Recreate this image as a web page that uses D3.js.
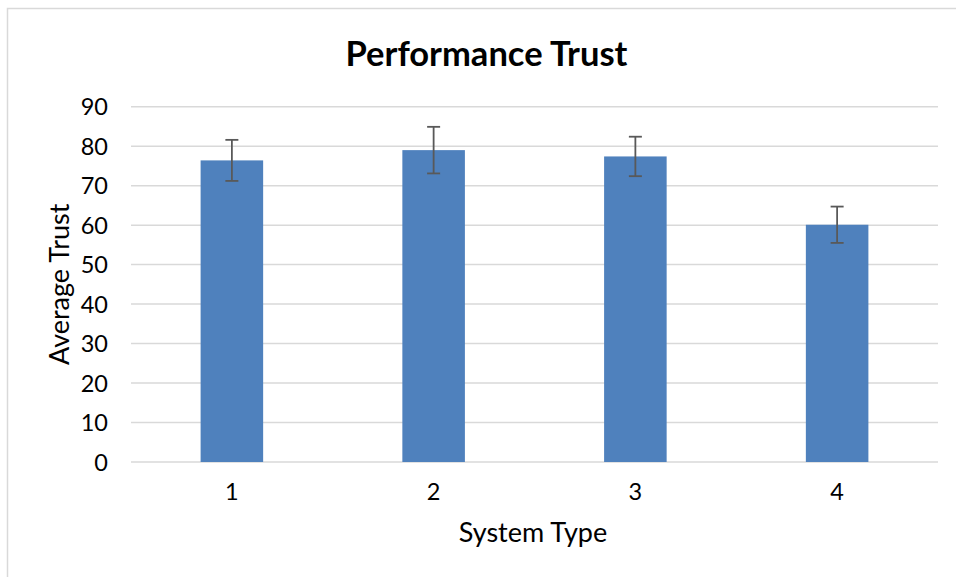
<!DOCTYPE html>
<html>
<head>
<meta charset="utf-8">
<script src="https://cdn.jsdelivr.net/npm/d3@7"></script>
<style>
	body { margin: 0; background: #fff; }
	svg text { font-family: Lato, "Open Sans", sans-serif; fill: #000; }
</style>
</head>
<body>
<div id="chart"></div>
<script>
// chart data
const categories = ['1', '2', '3', '4'];
const means = [76.4, 79.0, 77.4, 60.1];
const errors = [5.2, 5.9, 5.0, 4.6];
const yTicks = [0, 10, 20, 30, 40, 50, 60, 70, 80, 90];

const width = 956, height = 577;
const m = { top: 106.7, right: 18, bottom: 115, left: 131 };

const svg = d3.select('#chart').append('svg')
	.attr('width', width)
	.attr('height', height);

// outer chart frame
svg.append('rect')
	.attr('x', 7.5).attr('y', 8.5)
	.attr('width', 960).attr('height', 600)
	.attr('fill', '#fff')
	.attr('stroke', '#d9d9d9')
	.attr('stroke-width', 1.5);

const xScale = d3.scaleBand()
	.domain(categories)
	.range([m.left, width - m.right])
	.paddingInner(0.69)
	.paddingOuter(0.345);

const yScale = d3.scaleLinear()
	.domain([0, 90])
	.range([height - m.bottom, m.top]);

//gridlines
svg.append('g')
	.selectAll('line')
	.data(yTicks)
	.join('line')
		.attr('x1', m.left)
		.attr('x2', width - m.right)
		.attr('y1', d => yScale(d))
		.attr('y2', d => yScale(d))
		.attr('stroke', '#d9d9d9')
		.attr('stroke-width', 1.5);

//y axis labels
const yAxis = svg.append('g')
	.attr('transform', 'translate(' + m.left + ',0)')
	.call(d3.axisLeft(yScale).tickValues(yTicks).tickSize(0).tickPadding(23));
yAxis.select('.domain').remove();
yAxis.selectAll('text')
	.style('font-size', '23.5px')
	.attr('dy', '0.35em');

//x axis labels
const xAxis = svg.append('g')
	.attr('transform', 'translate(0,' + yScale(0) + ')')
	.call(d3.axisBottom(xScale).tickSize(0).tickPadding(21));
xAxis.select('.domain').remove();
xAxis.selectAll('text')
	.style('font-size', '23.5px');

//bars
svg.append('g')
	.selectAll('rect')
	.data(means)
	.join('rect')
		.attr('x', (d, i) => xScale(categories[i]))
		.attr('y', d => yScale(d))
		.attr('width', xScale.bandwidth())
		.attr('height', d => yScale(0) - yScale(d))
		.attr('fill', '#4f81bd');

//error bars
const cap = 6.5;
const errG = svg.append('g')
	.attr('stroke', '#595959')
	.attr('stroke-width', 1.8);
means.forEach(function(d, i) {
	const cx = xScale(categories[i]) + xScale.bandwidth() / 2;
	const hi = yScale(d + errors[i]);
	const lo = yScale(d - errors[i]);
	errG.append('line').attr('x1', cx).attr('x2', cx).attr('y1', hi).attr('y2', lo);
	errG.append('line').attr('x1', cx - cap).attr('x2', cx + cap).attr('y1', hi).attr('y2', hi);
	errG.append('line').attr('x1', cx - cap).attr('x2', cx + cap).attr('y1', lo).attr('y2', lo);
});

//titles
svg.append('text')
	.attr('x', 486.5)
	.attr('y', 66)
	.attr('text-anchor', 'middle')
	.style('font-size', '34.5px')
	.style('font-weight', 'bold')
	.text('Performance Trust');

svg.append('text')
	.attr('x', 533)
	.attr('y', 542)
	.attr('text-anchor', 'middle')
	.style('font-size', '27px')
	.text('System Type');

svg.append('text')
	.attr('transform', 'translate(69,' + ((yScale(0) + yScale(90)) / 2) + ') rotate(-90)')
	.attr('text-anchor', 'middle')
	.style('font-size', '27px')
	.text('Average Trust');
</script>
</body>
</html>
